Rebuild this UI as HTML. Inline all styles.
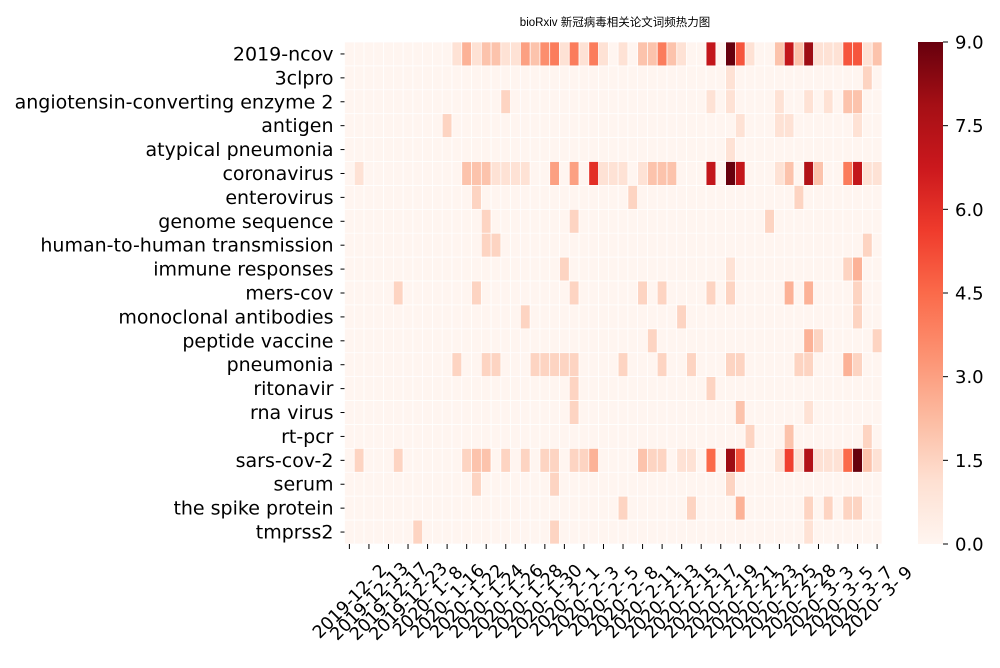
<!DOCTYPE html>
<html><head><meta charset="utf-8"><style>
body{margin:0;background:#fff;}
svg{display:block;font-family:"DejaVu Sans","Liberation Sans","Noto Sans CJK SC",sans-serif;}
</style></head><body>
<svg id="chart" width="1000" height="668" viewBox="0 0 1000 668" xmlns="http://www.w3.org/2000/svg">
<defs>
<linearGradient id="reds" x1="0" y1="1" x2="0" y2="0">
<stop offset="0" stop-color="#fff5f0"/><stop offset="0.125" stop-color="#fee0d2"/><stop offset="0.25" stop-color="#fcbba1"/><stop offset="0.375" stop-color="#fc9272"/><stop offset="0.5" stop-color="#fb6a4a"/><stop offset="0.625" stop-color="#ef3b2c"/><stop offset="0.75" stop-color="#cb181d"/><stop offset="0.875" stop-color="#a50f15"/><stop offset="1" stop-color="#67000d"/>
</linearGradient>
</defs>
<text x="615" y="26" font-size="11.5" text-anchor="middle" fill="#000" font-family="Liberation Sans, Noto Sans CJK SC, sans-serif">bioRxiv 新冠病毒相关论文词频热力图</text>
<g id="cells"></g><g id="yaxis"></g><g id="xaxis"></g>
<rect x="918" y="42" width="25" height="502" fill="url(#reds)"/>
<g id="cbar"></g>
</svg>
<script>
const rowLabels = ["2019-ncov","3clpro","angiotensin-converting enzyme 2","antigen","atypical pneumonia","coronavirus","enterovirus","genome sequence","human-to-human transmission","immune responses","mers-cov","monoclonal antibodies","peptide vaccine","pneumonia","ritonavir","rna virus","rt-pcr","sars-cov-2","serum","the spike protein","tmprss2"];
const tickLabels = ["2019-12- 2","2019-12-13","2019-12-17","2019-12-23","2020- 1- 8","2020- 1-16","2020- 1-22","2020- 1-24","2020- 1-26","2020- 1-28","2020- 1-30","2020- 2- 1","2020- 2- 3","2020- 2- 5","2020- 2- 8","2020- 2-11","2020- 2-13","2020- 2-15","2020- 2-17","2020- 2-19","2020- 2-21","2020- 2-23","2020- 2-25","2020- 2-28","2020- 3- 3","2020- 3- 5","2020- 3- 7","2020- 3- 9"];
const numCols = 55;
const cbarTicks = [0,1.5,3,4.5,6,7.5,9];
// sparse non-zero values per row: [column, value]
const r_2019ncov = [[11,1],[12,2.5],[13,1],[14,2],[15,2],[16,1],[17,1],[18,3],[19,2],[20,3.5],[21,4],[22,1],[23,4],[24,1],[25,4],[26,1],[28,1],[30,2],[31,2],[32,4],[33,2],[34,1],[37,7],[39,9],[40,5],[41,1],[44,2],[45,7],[46,2],[47,8],[48,1],[49,1],[50,1],[51,5],[52,5],[53,1],[54,2]];
const r_3clpro = [[39,1],[53,1.5]];
const r_ace2 = [[16,1.5],[37,1],[39,1],[44,1],[47,1],[49,1],[51,2],[52,2]];
const r_antigen = [[10,1.5],[40,1],[44,1],[45,1],[52,1]];
const r_atypical = [[39,1]];
const r_corona = [[1,1],[12,2],[13,2],[14,2],[15,1],[16,1],[17,1],[18,1],[21,3],[23,3],[25,6],[26,1],[27,1],[28,1],[30,1],[31,2],[32,2],[33,2],[37,7],[39,9],[40,7],[44,1],[45,2],[47,7.5],[48,2],[51,4],[52,7],[53,1],[54,1]];
const r_entero = [[13,1.5],[29,1.5],[46,1.5]];
const r_genome = [[14,1.5],[23,1.5],[43,1.5]];
const r_h2h = [[14,1.5],[15,1.5],[53,1.5]];
const r_immune = [[22,1.5],[39,1],[51,1.5],[52,2.5]];
const r_mers = [[5,1.5],[13,1.5],[23,1.5],[30,1.5],[32,1.5],[37,1.5],[39,1.5],[45,2.5],[47,2.5],[52,1.5]];
const r_mono = [[18,1.5],[34,1.5],[52,1.5]];
const r_peptide = [[31,1.5],[47,2.5],[48,1.5],[54,1.5]];
const r_pneu = [[11,1.5],[14,1.5],[15,1.5],[19,1.5],[20,1.5],[21,1.5],[22,1.5],[23,1.5],[28,1.5],[32,1.5],[35,1.5],[39,1.5],[40,1.5],[46,1.5],[47,1.5],[51,2.5],[52,1.5]];
const r_rito = [[23,1.5],[37,1.5]];
const r_rna = [[23,1.5],[40,2],[47,1]];
const r_rtpcr = [[41,1.5],[45,2],[53,1.5]];
const r_sars2 = [[1,1.5],[5,1.5],[12,1.5],[13,2],[14,2],[16,1.5],[18,1.5],[20,1.5],[21,1.5],[23,1.5],[24,1.5],[25,2.5],[30,2],[31,1.5],[32,1.5],[34,1],[35,1],[37,4.5],[39,8],[40,5],[44,1],[45,5.5],[46,1],[47,7.5],[48,1],[49,1],[50,1],[51,4.5],[52,9],[53,2],[54,1]];
const r_serum = [[13,1.5],[21,1.5],[39,1.5]];
const r_spike = [[28,1.5],[35,1.5],[40,2.5],[47,1.5],[49,1.5],[51,1.5],[52,1.5]];
const r_tmprss2 = [[7,1.5],[21,1.5],[47,1]];
const rowData = [r_2019ncov,r_3clpro,r_ace2,r_antigen,r_atypical,r_corona,r_entero,r_genome,r_h2h,r_immune,r_mers,r_mono,r_peptide,r_pneu,r_rito,r_rna,r_rtpcr,r_sars2,r_serum,r_spike,r_tmprss2];

const NS="http://www.w3.org/2000/svg";
const L=344.5,T=42,W=537.5,H=502,vmax=9;
const cw=W/numCols, rh=H/rowLabels.length;
const xPos=c=>L+c*cw, yPos=r=>T+r*rh;
const cbY=v=>T+H-(v/vmax)*H;
const stops=[[255,245,240],[254,224,210],[252,187,161],[252,146,114],[251,106,74],[239,59,44],[203,24,29],[165,15,21],[103,0,13]];
function color(v){let t=Math.max(0,Math.min(1,v/vmax))*8;let i=Math.min(7,Math.floor(t));let f=t-i;const a=stops[i],b=stops[i+1];return `rgb(${a.map((x,k)=>Math.round(x+(b[k]-x)*f)).join(',')})`;}
function mk(tag,attrs,parent){const e=document.createElementNS(NS,tag);for(const k in attrs)e.setAttribute(k,attrs[k]);parent.appendChild(e);return e;}
const cells=document.getElementById('cells');
rowData.forEach((pairs,r)=>{
  const vals=new Array(numCols).fill(0);
  pairs.forEach(p=>{vals[p[0]]=p[1];});
  vals.forEach((v,c)=>{
    const rc=mk('rect',{x:xPos(c),y:yPos(r),width:cw,height:rh,fill:color(v),stroke:'#fff','stroke-width':0.7},cells);
    
    
  });
});
const ya=document.getElementById('yaxis');
rowLabels.forEach((lab,r)=>{
  const yc=yPos(r)+rh/2;
  const tk=mk('line',{x1:L-4,x2:L,y1:yc,y2:yc,stroke:'#000','stroke-width':1},ya);
  
  
  const t=mk('text',{x:L-11,y:yc+6.5,'font-size':19,'text-anchor':'end',fill:'#000'},ya);
  t.textContent=lab;
  
  
});
const xa=document.getElementById('xaxis');
tickLabels.forEach((lab,i)=>{
  const xc=xPos(i*2)+cw/2;
  const tk=mk('line',{x1:xc,x2:xc,y1:T+H,y2:T+H+5,stroke:'#000','stroke-width':1},xa);
  
  
  const t=mk('text',{transform:`translate(${xc},601) rotate(-45)`,'font-size':17.5,'text-anchor':'middle',dy:'0.35em',fill:'#000','xml:space':'preserve'},xa);
  t.style.whiteSpace='pre';
  t.textContent=lab;
  
  
});
const cb=document.getElementById('cbar');
cbarTicks.forEach(v=>{
  const y=cbY(v);
  const tk=mk('line',{x1:943,x2:948,y1:y,y2:y,stroke:'#000','stroke-width':1},cb);
  
  
  const t=mk('text',{x:955,y:y+6.5,'font-size':18,fill:'#000'},cb);
  t.textContent=v.toFixed(1);
  
  
});
</script>
</body></html>
